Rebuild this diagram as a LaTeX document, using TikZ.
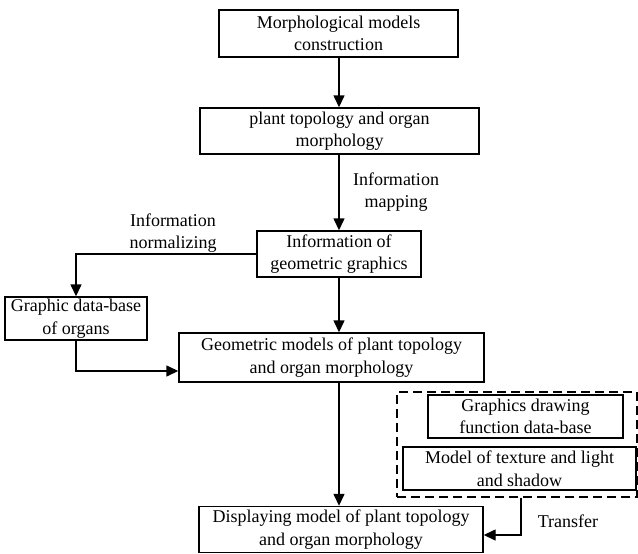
\documentclass[tikz,border=0pt]{standalone}
\usepackage{fontspec}
\setmainfont{Liberation Serif}
\usetikzlibrary{arrows.meta}
\begin{document}
\begin{tikzpicture}[x=1pt,y=-1pt,
  every node/.style={font=\fontsize{18}{22.5}\selectfont, align=center, inner sep=0pt},
  blk/.style={draw, line width=1.4pt},
  lbl/.style={},
  flow/.style={line width=1.4pt, -{Triangle[length=12pt,width=11pt]}},
  grp/.style={draw, line width=1.4pt, dash pattern=on 9pt off 5pt}]
  \useasboundingbox (0,0) rectangle (638,554);

  % main chain
  \node[blk, minimum width=239pt, minimum height=47pt] (morph) at (338.5,33.5)
    {Morphological models\\construction};
  \node[blk, minimum width=279pt, minimum height=46pt] (topo) at (339.5,131)
    {plant topology and organ\\morphology};
  \node[blk, minimum width=164pt, minimum height=46pt] (info) at (339,254)
    {Information of\\geometric graphics};
  \node[blk, minimum width=142pt, minimum height=43pt] (gdb) at (76,318.5)
    {Graphic data-base\\of organs};
  \node[blk, minimum width=305pt, minimum height=49pt] (geo) at (331.5,357.5)
    {Geometric models of plant topology\\and organ morphology};
  \node[blk, minimum width=284pt, minimum height=46pt] (disp) at (341,529.5)
    {Displaying model of plant topology\\and organ morphology};

  % resources inside the dashed group
  \node[grp, minimum width=240pt, minimum height=105pt] (res) at (517,444.5) {};
  \node[blk, minimum width=195pt, minimum height=43pt] (gfd) at (525.5,416.5)
    {Graphics drawing\\function data-base};
  \node[blk, minimum width=233pt, minimum height=43pt] (tex) at (519.5,468.5)
    {Model of texture and light\\and shadow};

  % labels
  \node[lbl] (lmap) at (396,192) {Information\\mapping};
  \node[lbl] (lnorm) at (173,233) {Information\\normalizing};
  \node[lbl] (ltr) at (568,521) {Transfer};

  % connectors
  \draw[flow] (morph.south -| 339,0) -- (topo.north -| 339,0);
  \draw[flow] (topo.south -| 339,0) -- (info.north);
  \draw[flow] (info.west) -| (gdb.north);
  \draw[flow] (info.south) -- (geo.north -| 339,0);
  \draw[flow] (gdb.south) |- (geo.west |- 0,371);
  \draw[flow] (geo.south -| 339,0) -- (disp.north -| 339,0);
  \coordinate (rb) at (res.south -| 521,0);
  \draw[flow] (rb) |- (disp.east |- 0,535);
\end{tikzpicture}
\end{document}
